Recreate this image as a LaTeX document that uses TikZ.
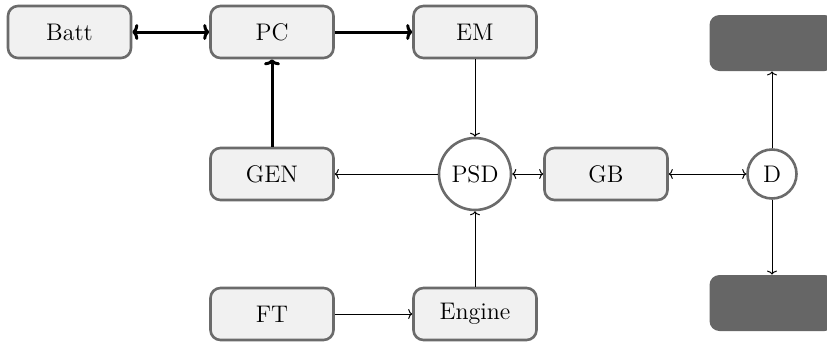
\documentclass[tikz,border=0pt]{standalone}
\usetikzlibrary{arrows.meta}

\definecolor{boxline}{HTML}{6B6B6B}
\definecolor{boxfill}{HTML}{F1F1F1}
\definecolor{darkfill}{HTML}{666666}

\tikzset{
  unit/.style={draw=boxline, fill=boxfill, line width=1.3pt, rounded corners=5pt,
    minimum width=61.5pt, minimum height=26pt, inner sep=0pt,
    font=\fontsize{12}{14}\selectfont},
  hub/.style={draw=boxline, fill=white, line width=1.3pt, circle, inner sep=0pt,
    font=\fontsize{12}{14}\selectfont},
  wheel/.style={fill=darkfill, rounded corners=5pt, minimum width=62.5pt,
    minimum height=28pt, inner sep=0pt},
  power/.style={line width=1.5pt, -{To[length=3pt,width=8pt]}},
  powerboth/.style={line width=1.5pt, {To[length=3pt,width=8pt]}-{To[length=3pt,width=8pt]}},
  mech/.style={line width=0.5pt, -{To[length=2pt,width=5pt]}},
  mechboth/.style={line width=0.5pt, {To[length=2pt,width=5pt]}-{To[length=2pt,width=5pt]}},
}

\begin{document}
\begin{tikzpicture}[x=0.5pt, y=-0.5pt]
  \clip (0,0) rectangle (827,344);
  \fill[white] (0,0) rectangle (827,344);

  % electrical path
  \node[unit] (batt) at (69.5,32) {Batt};
  \node[unit] (pc)   at (272,32) {PC};
  \node[unit] (em)   at (475,32) {EM};

  % middle row
  \node[unit] (gen) at (272,174) {GEN};
  \node[hub, minimum size=36pt] (psd) at (475,174) {PSD};
  \node[unit] (gb)  at (606,174) {GB};
  \node[hub, minimum size=24.5pt] (d) at (772,174) {D};

  % fuel path
  \node[unit] (ft)     at (272,314) {FT};
  \node[unit] (engine) at (475,314) {Engine};

  % wheels
  \node[wheel] (wtop) at (772,43) {};
  \node[wheel] (wbot) at (772,303) {};

  % electrical connectors
  \draw[powerboth] (batt) -- (pc);
  \draw[power] (pc) -- (em);
  \draw[power] (gen) -- (pc);

  % mechanical connectors
  \draw[mech] (em) -- (psd);
  \draw[mech] (psd) -- (gen);
  \draw[mechboth] (psd) -- (gb);
  \draw[mechboth] (gb) -- (d);
  \draw[mech] (d) -- (wtop);
  \draw[mech] (d) -- (wbot);
  \draw[mech] (engine) -- (psd);
  \draw[mech] (ft) -- (engine);
\end{tikzpicture}
\end{document}
